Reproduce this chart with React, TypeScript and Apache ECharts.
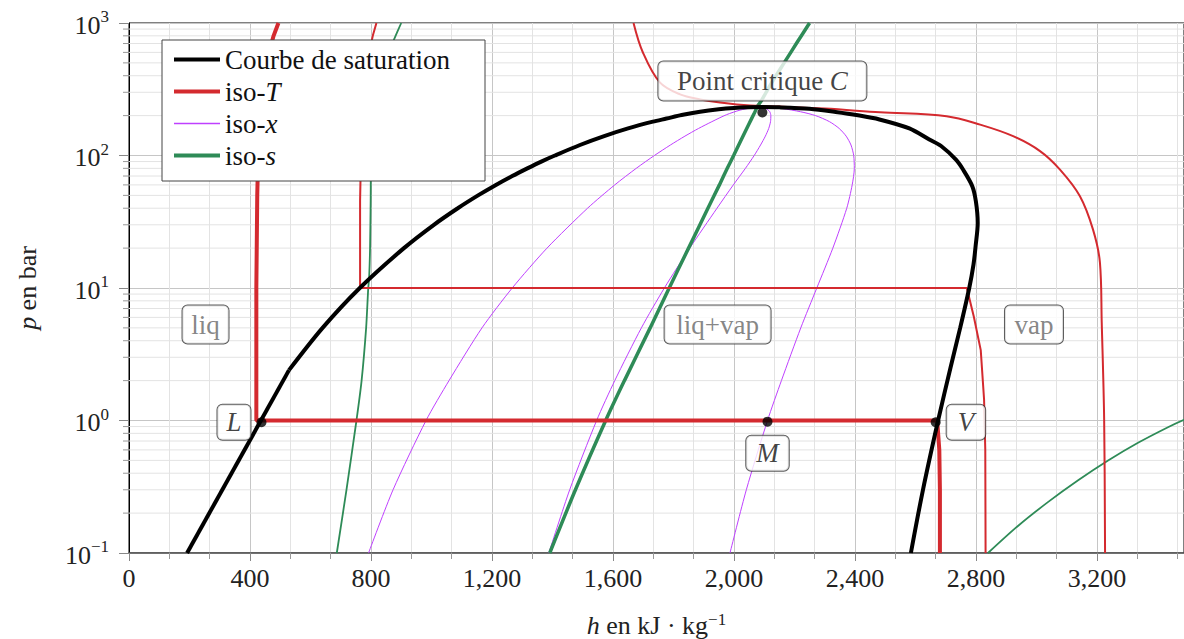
import React, { useEffect, useRef } from 'react';
import * as echarts from 'echarts';

const FONT = "'Liberation Serif', 'DejaVu Serif', serif";
const RED = '#d42a2f';
const GREEN = '#2e8b57';
const PURPLE = '#bf40ff';
const BLACK = '#000000';

// axes
const hMin = 0;
const hMax = 3488;
const hStep = 400;
const pMin = 0.1;
const pMax = 1000;
const pMinorTicks = [
  0.2, 0.3, 0.4, 0.5, 0.6, 0.7, 0.8, 0.9,
  2, 3, 4, 5, 6, 7, 8, 9,
  20, 30, 40, 50, 60, 70, 80, 90,
  200, 300, 400, 500, 600, 700, 800, 900,
];

// saturation curve [h kJ/kg, p bar] : low-pressure liquid segment + the rest
const saturationLow: [number, number][] = [[192, 0.1], [529, 2.4]];
const saturation: [number, number][] = [
  [529, 2.4], [640, 5], [763, 10], [909, 20], [1008, 30], [1087, 40],
  [1154, 50], [1213, 60], [1267, 70], [1317, 80], [1363, 90], [1408, 100],
  [1491, 120], [1571, 140], [1650, 160], [1732, 180], [1777, 190], [1827, 202],
  [1888, 214], [1950, 223], [2000, 228], [2050, 231], [2094, 232], [2150, 231],
  [2250, 225], [2336, 213], [2410, 201], [2481, 187], [2580, 160], [2646, 132],
  [2685, 118], [2734, 93], [2758, 78], [2788, 58.7], [2800, 45], [2806, 31],
  [2799, 20.7], [2792, 15], [2778, 10], [2748, 5], [2716, 2.5], [2675, 1],
  [2625, 0.3], [2585, 0.1],
];

// iso-T curves
const isoT100: [number, number][] = [
  [494, 1000], [478, 800], [463, 600], [448, 400], [437, 250], [428, 120],
  [424, 50], [421, 10], [421, 1], [2672, 1], [2679, 0.6], [2681, 0.3], [2681, 0.1],
];
const isoT180: [number, number][] = [
  [818, 1000], [806, 800], [794, 600], [782, 400], [773, 200], [767, 100],
  [764, 46], [764, 10], [2770, 10], [2793, 6.1], [2816, 3.4], [2827, 1.44],
  [2831, 0.6], [2832, 0.1],
];
const isoTcrit: [number, number][] = [
  [1668, 1000], [1699, 599], [1755, 356], [1822, 289], [1888, 265], [1954, 251],
  [2053, 238], [2150, 234], [2300, 226], [2483, 212], [2703, 198], [2814, 171],
  [2923, 140], [3012, 108], [3078, 78.3], [3144, 49.3], [3187, 27.7], [3210, 15.6],
  [3216, 5.5], [3224, 1.02], [3227, 0.1],
];

// iso-x curves
const isoX25: [number, number][] = [
  [792, 0.1], [873, 0.3], [982, 1], [1058, 2], [1167, 5], [1267, 10], [1382, 20],
  [1516, 40], [1606, 60], [1677, 80], [1737, 100], [1790, 120], [1838, 140],
  [1883, 160], [1927, 180], [1975, 203], [2020, 220], [2060, 229], [2094, 232],
];
const isoX50: [number, number][] = [
  [1388, 0.1], [1457, 0.3], [1546, 1], [1606, 2], [1694, 5], [1770, 10], [1854, 20],
  [1944, 40], [1998, 60], [2038, 80], [2067, 100], [2088, 120], [2104, 140],
  [2115, 160], [2121, 180], [2122, 200], [2118, 215], [2106, 226], [2094, 232],
];
const isoX75: [number, number][] = [
  [1987, 0.1], [2041, 0.3], [2111, 1], [2157, 2], [2221, 5], [2274, 10], [2327, 20],
  [2373, 40], [2391, 60], [2398, 80], [2396, 100], [2387, 120], [2371, 140],
  [2348, 160], [2316, 180], [2270, 200], [2220, 214], [2160, 226], [2094, 232],
];

// iso-s curves
const isoSCrit: [number, number][] = [
  [1391, 0.1], [1476, 0.3], [1576, 1], [1638, 2], [1723, 5], [1786, 10], [1850, 20],
  [1914, 40], [1952, 60], [1978, 80], [1999, 100], [2023, 130], [2048, 170],
  [2068, 210], [2080, 240], [2090, 257], [2120, 340], [2167, 504], [2208, 709],
  [2250, 1000],
];
const isoSLiq: [number, number][] = [
  [687, 0.1], [719, 0.3], [752, 1], [769, 2], [784, 5], [791, 10], [794, 12],
  [797, 20], [799, 46], [801, 100], [822, 300], [843, 500], [876, 750], [900, 1000],
];
const isoSVap: [number, number][] = [
  [2840, 0.1], [2939, 0.16], [3038, 0.242], [3138, 0.354], [3237, 0.499],
  [3336, 0.679], [3435, 0.89], [3488, 1.013], [3500, 1.03],
];

// annotated points
const pointNames = ['L', 'M', 'V', 'C'];
const pointH = [438, 2111, 2667, 2094];
const pointP = [0.97, 0.98, 0.97, 211];

// region labels
const regionNames = ['liq', 'liq+vap', 'vap'];
const regionH = [253, 1946, 2992];
const regionP = [5.3, 5.3, 5.3];

const legendNames = ['Courbe de saturation', 'iso-T', 'iso-x', 'iso-s'];
const legendColors = [BLACK, RED, PURPLE, GREEN];
const legendWidths = [4, 4, 1.5, 4];

function fmtThousands(v: number): string {
  const s = String(Math.round(v));
  return s.replace(/\B(?=(\d{3})+(?!\d))/g, ',');
}

const boxStyle = {
  backgroundColor: '#fff',
  borderColor: '#333',
  borderWidth: 1,
  borderRadius: 5,
};

function lineSeries(name: string, data: [number, number][], color: string, width: number, smooth: number | boolean = false) {
  return {
    type: 'line',
    name,
    data,
    symbol: 'none',
    showSymbol: false,
    smooth,
    silent: true,
    lineStyle: { color, width },
    itemStyle: { color },
    z: 3,
  };
}

export default function App() {
  const ref = useRef<HTMLDivElement>(null);

  useEffect(() => {
    if (!ref.current) return;
    const chart = echarts.init(ref.current, undefined, { renderer: 'svg' });

    const FS = 26;
    const FL = 27;
    const richItalic = { i: { fontStyle: 'italic', fontFamily: FONT, fontSize: FL } };

    const option: any = {
      animation: false,
      grid: {
        left: 129, top: 23, right: 0, bottom: 86,
        show: true, borderColor: '#000', borderWidth: 1,
        outerBoundsMode: 'none',
        containLabel: false,
      },
      legend: {
        data: legendNames.map((n, k) => ({
          name: n,
          lineStyle: { color: legendColors[k], width: legendWidths[k], opacity: 1 },
        })),
        orient: 'vertical',
        left: 162,
        top: 40,
        itemWidth: 46,
        itemHeight: 14,
        itemGap: 5,
        padding: [6, 10, 12, 10],
        backgroundColor: '#fff',
        borderColor: '#444',
        borderWidth: 1,
        borderRadius: 0,
        selectedMode: false,
        itemStyle: { opacity: 0 },
        lineStyle: { width: 'inherit' },
        textStyle: {
          fontFamily: FONT, fontSize: FL, color: '#111', width: 250, lineHeight: 26,
          rich: {
            i: { fontStyle: 'italic', fontFamily: FONT, fontSize: FL, color: '#111', lineHeight: 26 },
          },
        },
        formatter: (n: string) => {
          if (n === 'iso-T') return 'iso-{i|T}';
          if (n === 'iso-x') return 'iso-{i|x}';
          if (n === 'iso-s') return 'iso-{i|s}';
          return n;
        },
      },
      xAxis: {
        type: 'value',
        min: hMin,
        max: hMax,
        interval: hStep,
        axisLine: { show: true, onZero: false, lineStyle: { color: '#555', width: 1.5 } },
        axisTick: { show: true, length: 8, lineStyle: { color: '#888' } },
        minorTick: { show: true, splitNumber: 3, length: 6, lineStyle: { color: '#999' } },
        splitLine: { show: true, lineStyle: { color: '#c6c6c6', width: 1 } },
        minorSplitLine: { show: true, lineStyle: { color: '#e3e3e3', width: 1 } },
        axisLabel: {
          fontFamily: FONT, fontSize: FS, color: '#222', margin: 12,
          formatter: (v: number) => (Math.abs(v % hStep) < 1e-6 ? fmtThousands(v) : ''),
        },
        name: '{i|h} en kJ · kg{sup|−1}',
        nameLocation: 'middle',
        nameGap: 58,
        nameTextStyle: {
          fontFamily: FONT, fontSize: FS, color: '#222', lineHeight: 28,
          rich: {
            i: { fontStyle: 'italic', fontFamily: FONT, fontSize: FS, color: '#222', lineHeight: 28 },
            sup: { fontFamily: FONT, fontSize: 17, color: '#222', lineHeight: 14, verticalAlign: 'top' },
          },
        },
      },
      yAxis: {
        type: 'log',
        logBase: 10,
        min: pMin,
        max: pMax,
        axisLine: { show: true, onZero: false, lineStyle: { color: '#000', width: 1 } },
        axisTick: { show: true, length: 10, lineStyle: { color: '#888' } },
        splitLine: { show: true, lineStyle: { color: '#c6c6c6', width: 1 } },
        axisLabel: {
          margin: 20,
          formatter: (v: number) => {
            const e = Math.round(Math.log10(v));
            return '{b|10}{s|' + (e < 0 ? '−' + Math.abs(e) : String(e)) + '}';
          },
          rich: {
            b: { fontFamily: FONT, fontSize: FS, color: '#222', lineHeight: 30, verticalAlign: 'bottom' },
            s: { fontFamily: FONT, fontSize: 17, color: '#222', lineHeight: 16, verticalAlign: 'top' },
          },
        },
        name: '{i|p} en bar',
        nameLocation: 'middle',
        nameGap: 89,
        nameTextStyle: {
          fontFamily: FONT, fontSize: FS, color: '#222',
          rich: { i: { fontStyle: 'italic', fontFamily: FONT, fontSize: FS, color: '#222' } },
        },
      },
      series: [
        {
          type: 'custom',
          name: 'yMinorGrid',
          silent: true,
          z: 1,
          clip: false,
          data: pMinorTicks.map((p) => [hMin, p]),
          encode: { x: 0, y: 1 },
          renderItem: (_params: any, api: any) => {
            const p = api.value(1);
            const a = api.coord([hMin, p]);
            const b = api.coord([hMax, p]);
            return {
              type: 'group',
              children: [
                { type: 'line', shape: { x1: a[0], y1: a[1], x2: b[0], y2: b[1] }, style: { stroke: '#e3e3e3', lineWidth: 1 } },
                { type: 'line', shape: { x1: a[0] - 6, y1: a[1], x2: a[0], y2: a[1] }, style: { stroke: '#999', lineWidth: 1 } },
              ],
            };
          },
        },
        lineSeries('iso-x', isoX25, PURPLE, 1, 0.25),
        lineSeries('iso-x', isoX50, PURPLE, 1, 0.25),
        lineSeries('iso-x', isoX75, PURPLE, 1, 0.25),
        lineSeries('iso-s', isoSCrit, GREEN, 3.5, 0.25),
        lineSeries('iso-s', isoSLiq, GREEN, 1.8, 0.25),
        lineSeries('iso-s', isoSVap, GREEN, 1.8, 0.3),
        lineSeries('iso-T', isoT100, RED, 4),
        lineSeries('iso-T', isoT180, RED, 2),
        lineSeries('iso-T', isoTcrit, RED, 2, 0.35),
        lineSeries('Courbe de saturation', saturationLow, BLACK, 4),
        lineSeries('Courbe de saturation', saturation, BLACK, 4, 0.3),
        {
          type: 'scatter',
          name: 'points',
          silent: true,
          z: 5,
          symbol: 'circle',
          symbolSize: 10,
          itemStyle: { color: '#000' },
          data: pointNames.map((n, k) => {
            const common = { show: true, fontFamily: FONT, fontSize: FL, color: '#111', lineHeight: 27, ...boxStyle, rich: richItalic };
            let label: any;
            if (n === 'L') label = { ...common, position: 'left', distance: 6, formatter: '{i|L}', padding: [4, 9] };
            else if (n === 'V') label = { ...common, position: 'right', distance: 6, formatter: '{i|V}', padding: [4, 11] };
            else if (n === 'M') label = { ...common, position: 'bottom', distance: 9, formatter: '{i|M}', padding: [4, 10] };
            else label = { ...common, position: 'top', distance: 7, formatter: 'Point critique {i|C}', width: 188, padding: [6, 10] };
            return { name: n, value: [pointH[k], pointP[k]], label };
          }),
        },
        {
          type: 'scatter',
          name: 'regions',
          silent: true,
          z: 5,
          symbolSize: 1,
          itemStyle: { color: 'rgba(0,0,0,0)' },
          data: regionNames.map((n, k) => ({
            name: n,
            value: [regionH[k], regionP[k]],
            label: {
              show: true,
              position: 'inside',
              formatter: n,
              fontFamily: FONT,
              fontSize: FL,
              color: '#666',
              lineHeight: 28,
              width: n === 'liq' ? 30 : n === 'vap' ? 42 : 90,
              align: 'center',
              padding: [5, 8],
              ...boxStyle,
            },
          })),
        },
      ],
    };

    chart.setOption(option);
    return () => chart.dispose();
  }, []);

  return (
    <div
      ref={ref}
      style={{ position: 'absolute', left: 0, top: 0, width: 1184, height: 639, background: '#fff' }}
    />
  );
}
